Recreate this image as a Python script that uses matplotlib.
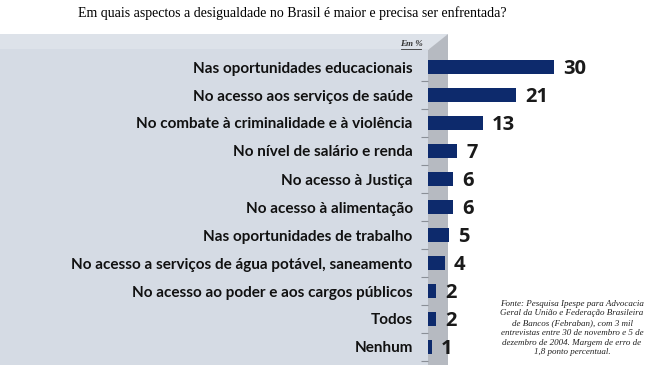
# -*- coding: utf-8 -*-

import matplotlib
matplotlib.use('Agg')
import matplotlib.pyplot as plt
from matplotlib.patches import Polygon
from matplotlib.lines import Line2D
import numpy as np

categorias = [
    'Nas oportunidades educacionais',
    'No acesso aos serviços de saúde',
    'No combate à criminalidade e à violência',
    'No nível de salário e renda',
    'No acesso à Justiça',
    'No acesso à alimentação',
    'Nas oportunidades de trabalho',
    'No acesso a serviços de água potável, saneamento',
    'No acesso ao poder e aos cargos públicos',
    'Todos',
    'Nenhum',
]
valores = [30, 21, 13, 7, 6, 6, 5, 4, 2, 2, 1]

titulo = 'Em quais aspectos a desigualdade no Brasil é maior e precisa ser enfrentada?'
fonte = ('Fonte: Pesquisa Ipespe para Advocacia\n'
         'Geral da União e Federação Brasileira\n'
         'de Bancos (Febraban), com 3 mil\n'
         'entrevistas entre 30 de novembro e 5 de\n'
         'dezembro de 2004. Margem de erro de\n'
         '1,8 ponto percentual.')

W, H = 650, 365


def px(x, y):
    # pixel -> fração da figura
    return (x / W, 1 - y / H)


fig = plt.figure(figsize=(6.5, 3.65), dpi=100)
fig.patch.set_facecolor('white')

# painel de fundo
painel = [px(0, 34), px(448, 34), px(428, 50), px(428, 365), px(0, 365)]
fig.add_artist(Polygon(painel, closed=True, transform=fig.transFigure,
                       facecolor='#d5dbe4', edgecolor='none', zorder=0))
faixa_topo = [px(0, 34), px(448, 34), px(430, 49), px(0, 49)]
fig.add_artist(Polygon(faixa_topo, closed=True, transform=fig.transFigure,
                       facecolor='#dde2e9', edgecolor='none', zorder=0))
parede = [px(428, 50), px(448, 34), px(448, 365), px(428, 365)]
fig.add_artist(Polygon(parede, closed=True, transform=fig.transFigure,
                       facecolor='#b6bac1', edgecolor='none', zorder=0))

# eixo das barras
x0 = 428
escala = 4.2  # px por ponto percentual
ax = fig.add_axes([x0 / W, 0, (W - x0) / W, 331 / H])
ax.set_xlim(0, (W - x0) / escala)
ax.set_ylim((365 - 67) / 28, (34 - 67) / 28)
ax.patch.set_alpha(0)
for s in ax.spines.values():
    s.set_visible(False)

pos = np.arange(len(valores))
ax.barh(pos, valores, height=0.5, color='#0d2a6c', zorder=3)

for p, v in zip(pos, valores):
    ax.text(v + 9 / escala, p + 0.08, str(v), va='center', ha='left',
            fontsize=14.5, fontweight='bold', color='#1a1a1a',
            family='Open Sans')

ax.set_xticks([])
ax.set_yticks(pos)
ax.set_yticklabels(categorias, fontsize=11, fontweight='bold',
                   family='Lato', color='#111111')
ax.tick_params(axis='y', which='major', length=0, pad=11)
ax.set_yticks(pos + 0.5, minor=True)
ax.tick_params(axis='y', which='minor', length=5, width=0.8,
               color='#8a8f97', direction='out')

# títulos e notas
fig.text(292 / W, 1 - 13 / H, titulo, ha='center', va='center',
         fontsize=10, family='Liberation Serif')

fig.text(411 / W, 1 - 44 / H, 'Em %', ha='center', va='center',
         fontsize=6.5, style='italic', family='Liberation Serif',
         fontweight='bold', color='#333333')
fig.add_artist(Line2D([401 / W, 421 / W], [1 - 49 / H, 1 - 49 / H],
                      transform=fig.transFigure, color='#333333', lw=0.6))

fig.text(572 / W, 1 - 328 / H, fonte, ha='center', va='center',
         fontsize=6.5, style='italic', family='Liberation Serif',
         linespacing=1.3, color='#222222')

fig.savefig('out.png', dpi=100)
